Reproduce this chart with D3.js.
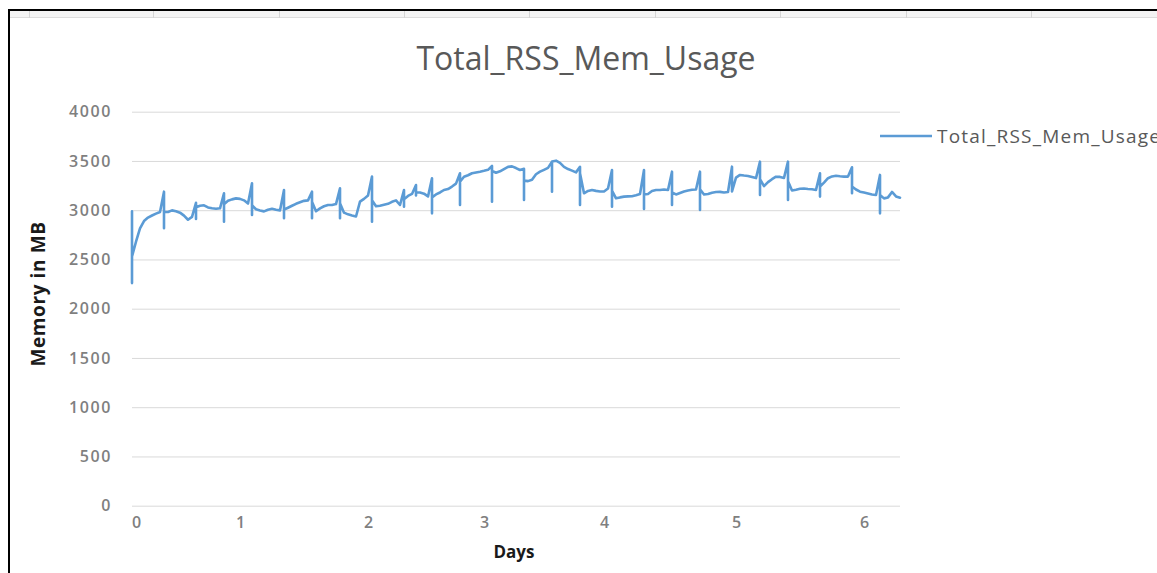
<!DOCTYPE html>
<html>
<head>
<meta charset="utf-8">
<script src="https://cdn.jsdelivr.net/npm/d3@7"></script>
<style>
  body { margin: 0; background: #fff; }
  svg { display: block; font-family: "Open Sans", sans-serif; }
</style>
</head>
<body>
<svg></svg>
<script>
// RSS memory samples (MB), equally spaced samples over ~6.3 days
var memMB = [
  2530, 2680, 2816, 2890, 2925, 2946, 2965, 2982, 2985, 2982,
  2998, 2990, 2975, 2945, 2903, 2932, 3030, 3045, 3050, 3028,
  3019, 3015, 3019, 3060, 3095, 3110, 3120, 3115, 3100, 3068,
  3050, 3010, 2998, 2988, 3005, 3015, 3004, 2998, 3005, 3025,
  3045, 3065, 3080, 3095, 3100, 3087, 2990, 3019, 3040, 3053,
  3053, 3062, 3070, 2975, 2958, 2946, 2936, 3087, 3115, 3150,
  3100, 3040, 3045, 3055, 3065, 3085, 3100, 3053, 3110, 3145,
  3165, 3180, 3180, 3168, 3140, 3130, 3160, 3180, 3205, 3215,
  3240, 3270, 3290, 3340, 3355, 3375, 3383, 3391, 3400, 3410,
  3400, 3380, 3395, 3418, 3440, 3445, 3428, 3408, 3300, 3295,
  3310, 3365, 3391, 3410, 3430, 3495, 3503, 3480, 3440, 3418,
  3402, 3384, 3375, 3172, 3195, 3205, 3196, 3190, 3190, 3220,
  3200, 3121, 3130, 3138, 3140, 3142, 3152, 3165, 3160, 3165,
  3195, 3205, 3205, 3210, 3205, 3180, 3160, 3175, 3190, 3200,
  3207, 3210, 3212, 3160, 3165, 3178, 3185, 3186, 3180, 3184,
  3190, 3330, 3358, 3352, 3348, 3337, 3326, 3315, 3245, 3285,
  3315, 3340, 3338, 3328, 3295, 3200, 3208, 3218, 3220, 3216,
  3213, 3206, 3240, 3280, 3325, 3343, 3350, 3345, 3341, 3341,
  3240, 3210, 3188, 3180, 3170, 3160, 3155, 3155, 3120, 3130,
  3185, 3140, 3127
];

// short jumps inside one sample: [sample, first extreme, second extreme]
var spikes = [
  [0, 2260, 2990], [8, 3188, 2816], [16, 3075, 2910], [23, 3172, 2883],
  [30, 3273, 2951], [38, 3205, 2918], [45, 3188, 2918], [52, 3222, 2918],
  [60, 3341, 2883], [68, 3205, 3036], [71, 3256, 3150], [75, 3324, 2968],
  [82, 3375, 3053], [90, 3449, 3087], [98, 3420, 3104], [105, 3493, 3188],
  [112, 3440, 3053], [120, 3408, 3036], [128, 3408, 3012], [135, 3391, 3053],
  [142, 3391, 3002], [150, 3442, 3190], [157, 3493, 3155], [164, 3493, 3104],
  [172, 3375, 3138], [180, 3436, 3172], [187, 3358, 2968]
];

// category labels of the x axis and the samples they sit on
var dayTickIdx = [1, 27, 59, 88, 118, 151, 183];
var dayLabels = ["0", "1", "2", "3", "4", "5", "6"];

var yTicks = [0, 500, 1000, 1500, 2000, 2500, 3000, 3500, 4000];
var seriesName = "Total_RSS_Mem_Usage";

var svg = d3.select("svg"),
    width = 1157,
    height = 573;

svg.attr('width', width).attr('height', height);

// spreadsheet frame behind the chart
svg.append('rect')
    .attr('x', 9).attr('y', 10)
    .attr('width', width).attr('height', 8)
    .attr('fill', '#f3f3f3');
svg.append('line')
    .attr('x1', 9).attr('x2', width)
    .attr('y1', 17.5).attr('y2', 17.5)
    .attr('stroke', '#dcdcdc');
[29, 153, 279, 404, 529, 655, 780, 906, 1031].forEach(function(cx) {
  svg.append('line')
      .attr('x1', cx + 0.5).attr('x2', cx + 0.5)
      .attr('y1', 11).attr('y2', 18)
      .attr('stroke', '#d4d4d4');
});
svg.append('path')
    .attr('d', 'M9,' + height + 'V10H' + width)
    .attr('fill', 'none')
    .attr('stroke', '#000')
    .attr('stroke-width', 2);

var x = d3.scaleLinear()
    .domain([0, memMB.length - 1])
    .range([132, 900]),
    y = d3.scaleLinear()
    .domain([0, 4000])
    .range([505.7, 111.7]);

// y axis with gridlines
var gy = svg.append('g')
    .attr('transform', 'translate(' + x.range()[0] + ',0)')
    .call(d3.axisLeft(y)
        .tickValues(yTicks)
        .tickFormat(d3.format('d'))
        .tickSize(-(x.range()[1] - x.range()[0]))
        .tickPadding(20));
gy.select('.domain').remove();
gy.selectAll('.tick line').attr('stroke', '#d9d9d9').attr('stroke-width', 1);
gy.selectAll('.tick text')
    .attr('fill', '#7f7f7f')
    .style('font-size', '16px')
    .style('font-weight', '600')
    .style('letter-spacing', '1.6px')
    .style('font-family', '"Open Sans", sans-serif');

// x axis (category labels)
var gx = svg.append('g')
    .attr('transform', 'translate(0,' + y(0) + ')')
    .call(d3.axisBottom(x)
        .tickValues(dayTickIdx)
        .tickFormat(function(d, i) { return dayLabels[i]; })
        .tickSize(0)
        .tickPadding(11));
gx.select('.domain').remove();
gx.selectAll('.tick text')
    .attr('fill', '#7f7f7f')
    .style('font-size', '16px')
    .style('font-weight', '600')
    .style('font-family', '"Open Sans", sans-serif');

// build the line points, putting the in-sample jumps in place
var spikeAt = {};
spikes.forEach(function(s) { spikeAt[s[0]] = s; });
var pts = [];
memMB.forEach(function(v, i) {
  if (spikeAt[i]) {
    pts.push([i, spikeAt[i][1]]);
    pts.push([i, spikeAt[i][2]]);
  }
  pts.push([i, v]);
});

var line = d3.line()
    .x(function(d) { return x(d[0]); })
    .y(function(d) { return y(d[1]); });

svg.append('path')
    .datum(pts)
    .attr('fill', 'none')
    .attr('stroke', '#5b9bd5')
    .attr('stroke-width', 2.6)
    .attr('stroke-linejoin', 'round')
    .attr('stroke-linecap', 'round')
    .attr('d', line);

// title
svg.append('text')
    .attr('x', 586)
    .attr('y', 70)
    .attr('text-anchor', 'middle')
    .attr('fill', '#595959')
    .style('font-size', '32px')
    .text(seriesName);

// axis titles
svg.append('text')
    .attr('transform', 'translate(38,294) rotate(-90)')
    .attr('dy', '0.35em')
    .attr('text-anchor', 'middle')
    .attr('fill', '#1a1a1a')
    .style('font-size', '19px')
    .style('letter-spacing', '0.6px')
    .style('font-weight', 'bold')
    .text('Memory in MB');

svg.append('text')
    .attr('x', 514)
    .attr('y', 552)
    .attr('dy', '0.35em')
    .attr('text-anchor', 'middle')
    .attr('fill', '#1a1a1a')
    .style('font-size', '17px')
    .style('font-weight', 'bold')
    .text('Days');

// legend (runs past the right edge, as in the screenshot)
svg.append('line')
    .attr('x1', 880).attr('x2', 932)
    .attr('y1', 136).attr('y2', 136)
    .attr('stroke', '#5b9bd5')
    .attr('stroke-width', 2.6);
svg.append('text')
    .attr('x', 937)
    .attr('y', 136)
    .attr('dy', '0.35em')
    .attr('fill', '#595959')
    .style('font-size', '19px')
    .style('letter-spacing', '1.2px')
    .text(seriesName);
</script>
</body>
</html>
